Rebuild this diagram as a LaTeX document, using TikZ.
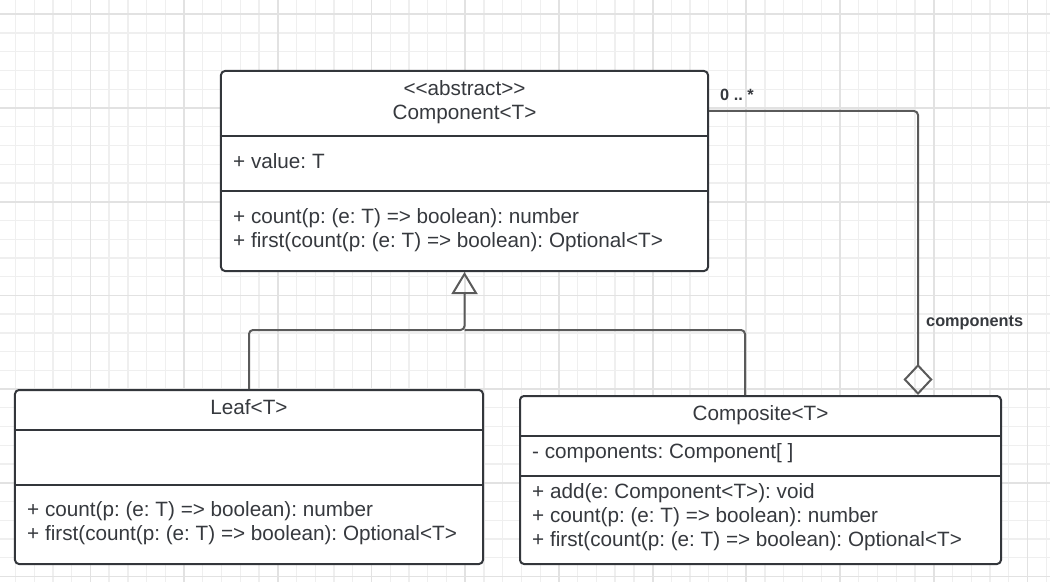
\documentclass[tikz,border=0pt]{standalone}
\usepackage{fontspec}
\newfontfamily\umlfont{Liberation Sans}
\usetikzlibrary{arrows.meta}
\definecolor{boxline}{HTML}{33363B}
\definecolor{linkline}{HTML}{5A5A5A}
\definecolor{txtcol}{HTML}{36393E}
\definecolor{gridminor}{HTML}{EFEFEF}
\definecolor{gridmajor}{HTML}{E2E2E2}
\frenchspacing
\begin{document}
\begin{tikzpicture}[x=1bp,y=-1bp,line join=round,
  classbox/.style={draw=boxline,line width=2bp,fill=white,rounded corners=4bp,inner sep=0pt},
  divider/.style={draw=boxline,line width=2bp},
  member/.style={anchor=base west,inner sep=0pt,text=txtcol,font=\umlfont\fontsize{20.7bp}{24bp}\selectfont},
  title/.style={anchor=base,inner sep=0pt,text=txtcol,font=\umlfont\fontsize{20.7bp}{24bp}\selectfont},
  tag/.style={anchor=base west,inner sep=0pt,text=txtcol,font=\umlfont\bfseries\fontsize{16.3bp}{19bp}\selectfont},
  link/.style={draw=linkline,line width=2bp,rounded corners=4bp},
  ]
\useasboundingbox (0,0) rectangle (1050,582);
%% grid
  \fill[white] (0,0) rectangle (1050,582);
  \foreach \i in {0,...,55} \draw[gridminor,line width=1.3bp] (15.44+18.74*\i,0) -- (15.44+18.74*\i,582);
  \foreach \j in {0,...,30} \draw[gridminor,line width=1.3bp] (0,14.3+18.74*\j) -- (1050,14.3+18.74*\j);
  \foreach \i in {1,...,11} \draw[gridmajor,line width=1.8bp] (-3.3+93.7*\i,0) -- (-3.3+93.7*\i,582);
  \foreach \j in {0,...,6} \draw[gridmajor,line width=1.8bp] (0,14.3+93.7*\j) -- (1050,14.3+93.7*\j);
%%
  % Node: Component
\begin{scope}
  \node[classbox,minimum width=487bp,minimum height=200bp] (component) at (464.5,171) {};
  \draw[divider] (component.west |- 0,136) -- (component.east |- 0,136);
  \draw[divider] (component.west |- 0,191) -- (component.east |- 0,191);
  \node[title] (componentstereo) at (464.5,96) {<<abstract>>};
  \node[title] (componentname) at (464.5,120) {Component<T>};
  \node[member] (componentvalue) at (233,168.3) {+ value: T};
  \node[member] (componentcount) at (233,223.3) {+ count(p: (e: T) => boolean): number};
  \node[member] (componentfirst) at (233,247.3) {+ first(count(p: (e: T) => boolean): Optional<T>};
\end{scope}
  % Node: Leaf
\begin{scope}
  \node[classbox,minimum width=468bp,minimum height=174bp] (leaf) at (249,477) {};
  \draw[divider] (leaf.west |- 0,430) -- (leaf.east |- 0,430);
  \draw[divider] (leaf.west |- 0,485) -- (leaf.east |- 0,485);
  \node[title] (leafname) at (249,414.3) {Leaf<T>};
  \node[member] (leafcount) at (27,516) {+ count(p: (e: T) => boolean): number};
  \node[member] (leaffirst) at (27,540) {+ first(count(p: (e: T) => boolean): Optional<T>};
\end{scope}
  % Node: Composite
\begin{scope}
  \node[classbox,minimum width=481bp,minimum height=168bp] (composite) at (760.5,480) {};
  \draw[divider] (composite.west |- 0,435.7) -- (composite.east |- 0,435.7);
  \draw[divider] (composite.west |- 0,475.7) -- (composite.east |- 0,475.7);
  \node[title] (compositename) at (760.5,420) {Composite<T>};
  \node[member] (compositefield) at (532,458.3) {- components: Component[ ]};
  \node[member] (compositeadd) at (532,498.3) {+ add(e: Component<T>): void};
  \node[member] (compositecount) at (532,522.7) {+ count(p: (e: T) => boolean): number};
  \node[member] (compositefirst) at (532,546.7) {+ first(count(p: (e: T) => boolean): Optional<T>};
\end{scope}
  % Edge: Leaf -> Component
  \coordinate (junction) at (464.5,330);
  \draw[link,-{Triangle[open,length=22bp,width=26bp]}] (leaf.north) |- (junction) -- (component.south);
  % Edge: Composite -> Component
  \draw[link] ([xshift=-15.5bp]composite.north) |- (junction);
  % Edge: Composite <>- Component
  \draw[link,{Diamond[open,length=31bp,width=29bp]}-] ([xshift=157.5bp]composite.north) |- ([yshift=60bp]component.east);
  \node[tag] (multiplicity) at (720,100.7) {0 .. *};
  \node[tag] (rolename) at (926,326.7) {components};
%
\end{tikzpicture}
\end{document}
